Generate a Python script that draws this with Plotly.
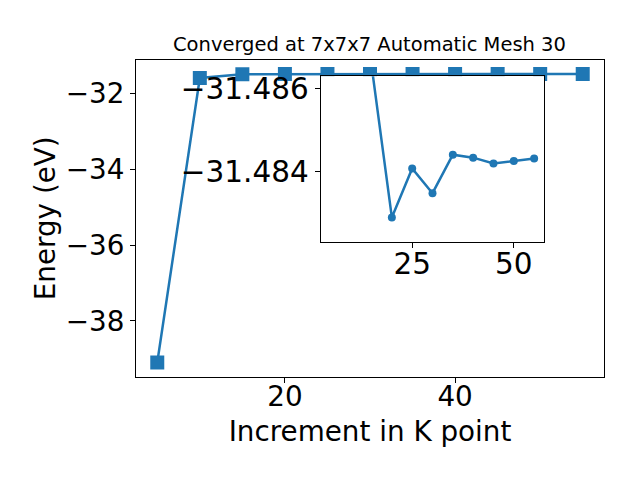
import plotly.graph_objects as go

kpoints = [5, 10, 15, 20, 25, 30, 35, 40, 45, 50, 55]
energy = [-39.096, -31.587, -31.48655, -31.48291, -31.48408, -31.48349,
          -31.48441, -31.48434, -31.48420, -31.48426, -31.48432]

main_yticks = [-32, -34, -36, -38]
main_xticks = [20, 40]
inset_yticks = [-31.486, -31.484]
inset_xticks = [25, 50]

title_text = "Converged at 7x7x7 Automatic Mesh 30"
xlabel = "Increment in K point"
ylabel = "Energy (eV)"

color = "#1f77b4"
FONT = "DejaVu Sans"
OFF = 8  # browser body margin


def dx(px):
    return (px - OFF) / 640


def dy(py):
    return (480 + OFF - py) / 480


fig = go.Figure()
fig.add_trace(go.Scatter(x=kpoints, y=energy, mode="lines+markers",
                         line=dict(color=color, width=2.5),
                         marker=dict(symbol="square", size=14, color=color),
                         xaxis="x", yaxis="y", showlegend=False))
fig.add_trace(go.Scatter(x=kpoints, y=energy, mode="lines+markers",
                         line=dict(color=color, width=2.5),
                         marker=dict(symbol="circle", size=8, color=color),
                         xaxis="x2", yaxis="y2", showlegend=False))

TF = dict(size=27.8, color="black", family=FONT)
TF2 = dict(size=29.5, color="black", family=FONT)
axcommon = dict(showline=True, linecolor="black", linewidth=1, mirror=True,
                ticks="outside", ticklen=5, tickwidth=1, tickcolor="black",
                showgrid=False, zeroline=False)

fig.update_layout(
    width=640, height=480,
    margin=dict(l=0, r=0, t=0, b=0),
    paper_bgcolor="white", plot_bgcolor="white",
    font=dict(family=FONT, color="black"),
    xaxis=dict(domain=[dx(136), dx(604)], range=[2.5, 57.5], tickvals=main_xticks,
               tickfont=TF, ticklabelstandoff=-10,
               title=dict(text=xlabel, font=dict(size=27.8), standoff=9), **axcommon),
    yaxis=dict(domain=[dy(376), dy(56)], range=[-39.477, -31.102], tickvals=main_yticks,
               tickfont=TF,
               title=dict(text=ylabel, font=dict(size=27.8), standoff=2), **axcommon),
    xaxis2=dict(domain=[dx(320.7), dx(544.3)], range=[2.5, 57.5], tickvals=inset_xticks,
                tickfont=TF2, ticklabelstandoff=-9, anchor="y2", **axcommon),
    yaxis2=dict(domain=[dy(240), dy(72.7)], range=[-31.48232, -31.48629], tickvals=inset_yticks,
                tickfont=TF2, tickformat=".3f", anchor="x2", **axcommon),
    annotations=[dict(text=title_text, x=dx(369), y=dy(41), xref="paper", yref="paper",
                      xanchor="center", yanchor="middle",
                      showarrow=False, font=dict(size=19.5, color="black"))],
)
fig.add_shape(type="rect", xref="x2 domain", yref="y2 domain", x0=0, x1=1, y0=0, y1=1,
              fillcolor="white", line=dict(width=0), layer="below")
fig.write_html("out.html")
